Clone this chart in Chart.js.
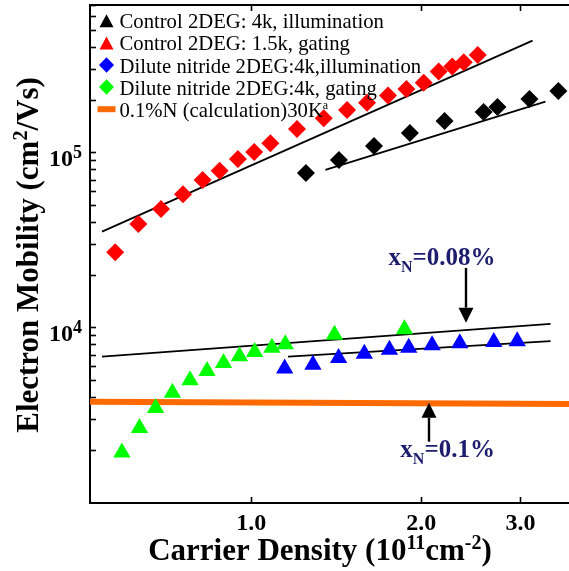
<!DOCTYPE html>
<html>
<head>
<meta charset="utf-8">
<script src="https://cdn.jsdelivr.net/npm/chart.js@4.4.1/dist/chart.umd.min.js"></script>
<style>
  html, body { margin: 0; padding: 0; background: #fff; overflow: hidden; }
  #wrap { width: 572px; height: 571px; position: relative; }
</style>
</head>
<body>
<div id="wrap"><canvas id="mobility-chart"></canvas></div>
<script>
// carrier density in 1e11 cm^-2, mobility in cm^2/Vs
var controlIllumX = [1.25, 1.43, 1.65, 1.91, 2.20, 2.58, 2.73, 3.11, 3.50];
var controlIllumY = [76900, 91200, 109600, 130100, 152400, 171500, 183200, 203600, 226100];

var controlGatingX = [0.574, 0.631, 0.692, 0.757, 0.820, 0.879, 0.947, 1.012, 1.081, 1.205,
  1.344, 1.478, 1.604, 1.747, 1.883, 2.021, 2.148, 2.270, 2.379, 2.519];
var controlGatingY = [27100, 39300, 47900, 58100, 70100, 79200, 92400, 101300, 113600, 137100,
  157900, 176100, 193800, 212500, 232100, 252100, 291400, 311300, 329800, 363100];

var diluteIllumX = [1.146, 1.286, 1.428, 1.586, 1.757, 1.901, 2.091, 2.341, 2.689, 2.959];
var diluteIllumY = [5860, 6170, 6740, 7130, 7520, 7720, 7970, 8180, 8320, 8390];

var diluteGatingX = [0.590, 0.634, 0.677, 0.725, 0.779, 0.835, 0.893, 0.953, 1.014, 1.088, 1.149, 1.404, 1.868];
var diluteGatingY = [1940, 2680, 3490, 4270, 5020, 5680, 6310, 6890, 7300, 7720, 8070, 9160, 9830];

// power-law fits
var fitGatingX = [0.544, 3.15];
var fitGatingY = [35500, 438000];
var fitIllumX = [1.353, 3.32];
var fitIllumY = [79950, 196400];
var fitDiluteGatingX = [0.544, 3.39];
var fitDiluteGatingY = [6860, 10540];
var fitDiluteIllumX = [1.162, 3.39];
var fitDiluteIllumY = [6860, 8400];

// 0.1%N calculation at 30K
var calcX = [0.518, 3.7];
var calcY = [3790, 3680];

var xTickValues = [1, 2, 3];
var yTickValues = [2000, 3000, 4000, 5000, 6000, 7000, 8000, 9000, 10000,
  20000, 30000, 40000, 50000, 60000, 70000, 80000, 90000, 100000,
  200000, 300000, 400000, 500000, 600000, 700000];
var yLabelValues = [10000, 100000];

var legendLabels = [
  'Control 2DEG: 4k, illumination',
  'Control 2DEG: 1.5k, gating',
  'Dilute nitride 2DEG:4k,illumination',
  'Dilute nitride 2DEG:4k, gating',
  '0.1%N (calculation)30K'
];

// x_N annotations: label, text anchor, arrow
var noteLabels = ['=0.08%', '=0.1%'];
var noteTextX = [1.75, 1.837];
var noteTextY = [22910, 1832];
var arrowX = [2.406, 2.068];
var arrowFromY = [22030, 2240];
var arrowToY = [10722, 3743];

(function () {
  var SERIF = "'Liberation Serif', 'Times New Roman', serif";
  var NAVY = '#1d1d6e';
  var ORANGE = '#ff6a00';

  function pairs(xs, ys) {
    return xs.map(function (x, i) { return { x: x, y: ys[i] }; });
  }

  // text with super/subscript runs, left/center/right aligned on a baseline
  function drawRich(ctx, parts, x, y, align, size, small, weight) {
    var w = weight || 'bold';
    var total = 0;
    parts.forEach(function (p) {
      ctx.font = w + ' ' + (p.sup || p.sub ? small : size) + 'px ' + SERIF;
      p.w = ctx.measureText(p.t).width;
      total += p.w;
    });
    var cx = align === 'center' ? x - total / 2 : align === 'right' ? x - total : x;
    ctx.textAlign = 'left';
    ctx.textBaseline = 'alphabetic';
    parts.forEach(function (p) {
      ctx.font = w + ' ' + (p.sup || p.sub ? small : size) + 'px ' + SERIF;
      var dy = p.sup ? -size * 0.36 : p.sub ? size * 0.27 : 0;
      ctx.fillText(p.t, cx, y + dy);
      cx += p.w;
    });
  }

  function triangle(ctx, x, y, w, h) {
    ctx.beginPath();
    ctx.moveTo(x, y - h / 2);
    ctx.lineTo(x + w / 2, y + h / 2);
    ctx.lineTo(x - w / 2, y + h / 2);
    ctx.closePath();
    ctx.fill();
  }

  function diamond(ctx, x, y, w, h) {
    ctx.beginPath();
    ctx.moveTo(x, y - h / 2);
    ctx.lineTo(x + w / 2, y);
    ctx.lineTo(x, y + h / 2);
    ctx.lineTo(x - w / 2, y);
    ctx.closePath();
    ctx.fill();
  }

  var figureText = {
    id: 'figureText',
    afterDraw: function (chart) {
      var ctx = chart.ctx;
      var xs = chart.scales.x;
      var ys = chart.scales.y;
      var area = chart.chartArea;
      ctx.save();
      ctx.fillStyle = '#000';

      // y tick labels as powers of ten
      yLabelValues.forEach(function (v) {
        var py = ys.getPixelForValue(v);
        var exp = String(Math.round(Math.log10(v)));
        drawRich(ctx, [{ t: '10' }, { t: exp, sup: true }], area.left - 8, py + 13.5, 'right', 24, 18);
      });

      // axis titles
      drawRich(ctx, [
        { t: 'Carrier Density (10' }, { t: '11', sup: true }, { t: 'cm' }, { t: '-2', sup: true }, { t: ')' }
      ], 320, 560, 'center', 31, 20);

      ctx.save();
      ctx.translate(38, 255);
      ctx.rotate(-Math.PI / 2);
      drawRich(ctx, [
        { t: 'Electron Mobility (cm' }, { t: '2', sup: true }, { t: '/Vs)' }
      ], 0, 0, 'center', 31, 20);
      ctx.restore();

      // legend inside the plot
      var colors = ['#000000', '#ff0000', '#0000ff', '#00ff00'];
      legendLabels.forEach(function (label, i) {
        var base = area.top + 23.3 + 22.1 * i;
        var mx = area.left + 16.5;
        var my = base - 7.5;
        if (i < 2) {
          ctx.fillStyle = colors[i];
          triangle(ctx, mx, my, 14, 13);
        } else if (i < 4) {
          ctx.fillStyle = colors[i];
          diamond(ctx, mx, my, 15, 15.5);
        } else {
          ctx.fillStyle = ORANGE;
          ctx.fillRect(mx - 9, my - 3, 18, 6);
        }
        ctx.fillStyle = '#000';
        var parts = [{ t: label }];
        if (i === 4) parts.push({ t: 'a', sup: true });
        drawRich(ctx, parts, area.left + 29.5, base, 'left', 20.7, 12, 'normal');
      });

      // x_N notes and arrows
      ctx.fillStyle = NAVY;
      noteLabels.forEach(function (label, i) {
        var tx = xs.getPixelForValue(noteTextX[i]);
        var ty = ys.getPixelForValue(noteTextY[i]);
        drawRich(ctx, [{ t: 'x' }, { t: 'N', sub: true }, { t: label }], tx, ty, 'left', 25, 16);
      });

      ctx.fillStyle = '#000';
      ctx.strokeStyle = '#000';
      ctx.lineWidth = 2.4;
      arrowX.forEach(function (v, i) {
        var ax = Math.round(xs.getPixelForValue(v));
        var y0 = ys.getPixelForValue(arrowFromY[i]);
        var y1 = ys.getPixelForValue(arrowToY[i]);
        var dir = y1 > y0 ? 1 : -1;
        var head = 15;
        ctx.beginPath();
        ctx.moveTo(ax, y0);
        ctx.lineTo(ax, y1 - dir * head);
        ctx.stroke();
        ctx.beginPath();
        ctx.moveTo(ax, y1);
        ctx.lineTo(ax - 7.5, y1 - dir * head);
        ctx.lineTo(ax + 7.5, y1 - dir * head);
        ctx.closePath();
        ctx.fill();
      });

      ctx.restore();
    }
  };

  function markers(xs, ys, color, style, radius) {
    return {
      data: pairs(xs, ys),
      showLine: false,
      pointStyle: style,
      pointRadius: radius,
      pointBackgroundColor: color,
      pointBorderWidth: 0,
      pointBorderColor: color,
      order: 0
    };
  }

  function fitLine(xs, ys) {
    return {
      data: pairs(xs, ys),
      showLine: true,
      borderColor: '#000',
      borderWidth: 1.7,
      pointRadius: 0,
      order: 1
    };
  }

  var inwardGrid = {
    drawOnChartArea: false,
    drawTicks: true,
    tickLength: -6,
    tickColor: '#000',
    tickWidth: 1.6
  };

  // fixed box sizes, no label overhang padding
  function pinSize(prop, size) {
    return function (scale) {
      scale[prop] = size;
      scale.paddingLeft = 0;
      scale.paddingRight = 0;
      scale.paddingTop = 0;
      scale.paddingBottom = 0;
    };
  }

  function fixedTicks(values) {
    return function (scale) {
      scale.ticks = values.map(function (v) { return { value: v }; });
    };
  }

  var canvas = document.getElementById('mobility-chart');

  new Chart(canvas, {
    type: 'scatter',
    data: {
      datasets: [
        markers(controlIllumX, controlIllumY, '#000000', 'rectRot', 9),
        markers(controlGatingX, controlGatingY, '#ff0000', 'rectRot', 9),
        markers(diluteIllumX, diluteIllumY, '#0000ff', 'triangle', 10),
        markers(diluteGatingX, diluteGatingY, '#00ff00', 'triangle', 10),
        fitLine(fitGatingX, fitGatingY),
        fitLine(fitIllumX, fitIllumY),
        fitLine(fitDiluteGatingX, fitDiluteGatingY),
        fitLine(fitDiluteIllumX, fitDiluteIllumY),
        {
          data: pairs(calcX, calcY),
          showLine: true,
          borderColor: ORANGE,
          borderWidth: 6,
          pointRadius: 0,
          order: 2
        }
      ]
    },
    options: {
      responsive: true,
      maintainAspectRatio: false,
      animation: false,
      layout: { padding: 0, autoPadding: false },
      plugins: {
        legend: { display: false },
        tooltip: { enabled: false }
      },
      scales: {
        x: {
          type: 'logarithmic',
          position: 'bottom',
          min: 0.518,
          max: 3.7,
          afterBuildTicks: fixedTicks(xTickValues),
          afterFit: pinSize('height', 68),
          grid: inwardGrid,
          border: { display: true, color: '#000', width: 2 },
          ticks: {
            color: '#000',
            padding: 12,
            maxRotation: 0,
            autoSkip: false,
            font: { family: SERIF, size: 24, weight: 'bold' },
            callback: function (value) { return Number(value).toFixed(1); }
          }
        },
        x2: {
          type: 'logarithmic',
          position: 'top',
          min: 0.518,
          max: 3.7,
          afterBuildTicks: fixedTicks(xTickValues),
          afterFit: pinSize('height', 5),
          grid: inwardGrid,
          border: { display: true, color: '#000', width: 2 },
          ticks: { display: false }
        },
        y: {
          type: 'logarithmic',
          position: 'left',
          min: 1000,
          max: 700000,
          afterBuildTicks: fixedTicks(yTickValues),
          afterFit: pinSize('width', 90),
          grid: inwardGrid,
          border: { display: true, color: '#000', width: 2 },
          ticks: { display: false }
        }
      }
    },
    plugins: [figureText]
  });
})();
</script>
</body>
</html>
